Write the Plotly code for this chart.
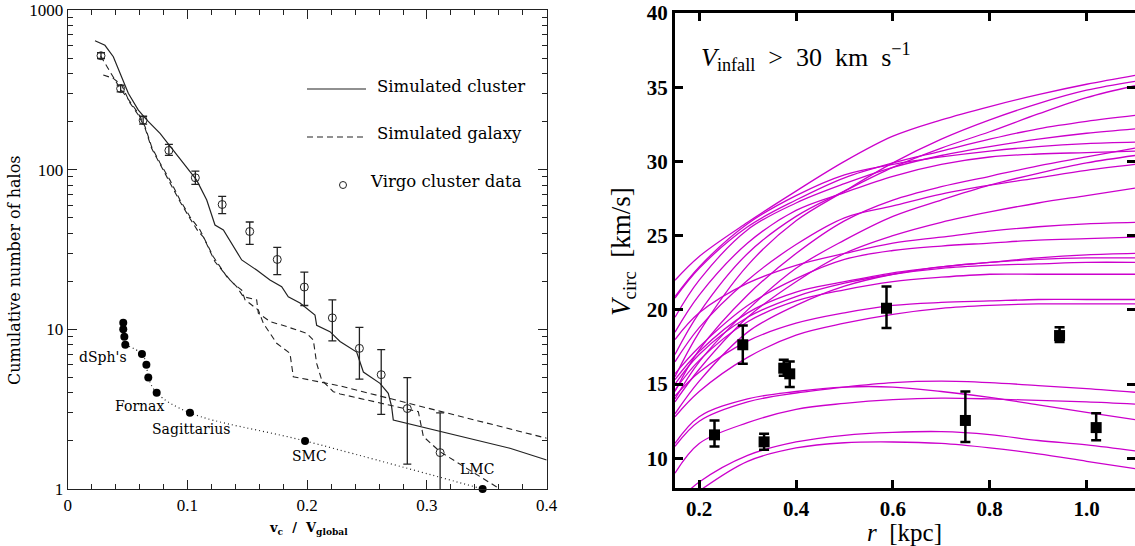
import math
import plotly.graph_objects as go

W, H = 1135, 546

# ---------------- Left panel data ----------------
cluster_x = [0.0228, 0.0311, 0.0381, 0.0437, 0.0506, 0.059, 0.066, 0.0771, 0.0882, 0.0994,
             0.1077, 0.1161, 0.123, 0.130, 0.1383, 0.1453, 0.1578, 0.1689, 0.1787, 0.1842,
             0.194, 0.2065, 0.2079, 0.219, 0.2274, 0.2413, 0.2469, 0.2608, 0.2677, 0.2705,
             0.2719, 0.3693, 0.4]
cluster_n = [642, 601, 510, 401, 301, 236, 205, 169, 133, 104,
             86, 64.6, 45, 41.9, 33, 27.2, 23.5, 20.4, 18.5, 16.0,
             14.6, 12.3, 10.6, 9.67, 8.4, 7.2, 5.4, 4.59, 3.97, 3.28,
             2.70, 1.80, 1.52]

galaxy1_x = [0.0275, 0.0437, 0.052, 0.059, 0.0646, 0.0701, 0.0771, 0.0854, 0.0938, 0.1021,
             0.1105, 0.1216, 0.1328, 0.1383, 0.1453, 0.1481, 0.1592, 0.1634, 0.1745, 0.1856,
             0.1884, 0.2107, 0.2275, 0.4]
galaxy1_n = [515, 323, 267, 225, 186, 139, 110, 86, 64.6, 50.7,
             41.9, 28.5, 21.4, 19.4, 17.6, 15.3, 13.2, 10.9, 8.18, 7.08,
             5.05, 4.70, 4.42, 2.08]

galaxy2_x = [0.0297, 0.0381, 0.045, 0.052, 0.059, 0.0646, 0.0701, 0.0771, 0.0854, 0.0938,
             0.1021, 0.1090, 0.1132, 0.1230, 0.1355, 0.1411, 0.1467, 0.1578, 0.1592, 0.1689,
             0.1829, 0.1996, 0.2051, 0.2079, 0.2121, 0.2218, 0.2275, 0.2928, 0.297, 0.311, 0.361]
galaxy2_n = [392, 373, 339, 262, 220, 182, 136, 108, 84, 63,
             49.5, 41, 38, 26.5, 20.4, 18.5, 16.0, 15.3, 12.6, 11.2,
             10.4, 9.44, 8.57, 6.12, 4.82, 4.07, 3.94, 3.05, 2.13, 1.71, 1.0]

virgo_x = [0.0278, 0.0442, 0.063, 0.0845, 0.1066, 0.129, 0.152, 0.175, 0.1976, 0.221,
           0.2436, 0.2618, 0.2836, 0.311]
virgo_n = [517, 322, 204, 132, 89, 60.5, 41, 27.4, 18.4, 11.8, 7.6, 5.2, 3.19, 1.69]
virgo_hi = [540, 338, 216, 144, 98, 68, 47, 32.6, 22.8, 15.3, 10.3, 7.46, 4.99, 3.0]
virgo_lo = [497, 307, 193, 123, 81, 53, 34, 22, 14.1, 8.46, 4.87, 2.93, 1.43, 0.5]

sat_x = [0.0464, 0.0464, 0.0473, 0.0481, 0.0620, 0.0657, 0.0673, 0.0743, 0.1021, 0.1982, 0.3465]
sat_n = [11, 10, 9, 8, 7, 6, 5, 4, 3, 2, 1]
sat_labels = {3: "dSph's", 7: "Fornax", 8: "Sagittarius", 9: "SMC", 10: "LMC"}

left_xticks = [0, 0.1, 0.2, 0.3, 0.4]
left_yticks = [1, 10, 100, 1000]
left_yticktext = ["1", "10", "100", "1000"]

# ---------------- Right panel data ----------------
r_grid = [0.15, 0.2, 0.3, 0.4, 0.5, 0.6, 0.7, 0.8, 0.9, 1.0, 1.1]
vcirc_curves = [
    [22.0, 23.6, 25.9, 28.0, 30.0, 31.7, 32.8, 33.7, 34.5, 35.2, 35.8],
    [15.5, 18.5, 23.0, 26.0, 28.0, 29.9, 31.5, 32.8, 33.9, 34.8, 35.4],
    [17.0, 19.8, 23.8, 26.3, 28.0, 29.6, 30.9, 32.0, 33.2, 34.3, 35.1],
    [20.8, 22.8, 25.6, 27.4, 28.9, 29.9, 30.7, 31.5, 32.2, 32.7, 33.1],
    [19.5, 22.0, 25.4, 27.2, 28.5, 29.6, 30.4, 31.0, 31.5, 31.9, 32.2],
    [20.9, 22.9, 25.8, 27.7, 29.1, 29.8, 30.3, 30.7, 31.0, 31.2, 31.3],
    [14.5, 17.3, 21.0, 23.8, 26.0, 27.4, 28.3, 29.0, 29.7, 30.3, 30.9],
    [18.5, 21.0, 24.5, 26.7, 27.9, 29.0, 29.8, 30.3, 30.5, 30.6, 30.7],
    [14.0, 16.5, 20.0, 22.8, 24.7, 26.3, 27.4, 28.4, 29.2, 29.9, 30.4],
    [16.5, 18.8, 22.0, 24.4, 26.2, 27.0, 27.8, 28.4, 28.9, 29.4, 29.8],
    [13.8, 16.0, 19.5, 21.9, 23.8, 25.0, 25.9, 26.6, 27.2, 27.7, 28.2],
    [18.0, 19.8, 21.8, 23.0, 23.8, 24.5, 24.9, 25.3, 25.6, 25.8, 25.9],
    [15.7, 17.5, 20.3, 22.1, 23.4, 24.0, 24.3, 24.5, 24.7, 24.8, 24.9],
    [13.0, 15.2, 18.5, 20.3, 21.6, 22.4, 22.9, 23.2, 23.5, 23.7, 23.8],
    [15.3, 17.2, 19.8, 21.2, 21.9, 22.5, 22.9, 23.2, 23.4, 23.5, 23.5],
    [15.0, 17.0, 19.5, 20.9, 21.8, 22.4, 22.8, 23.0, 23.1, 23.2, 23.2],
    [14.6, 16.6, 19.2, 20.6, 21.35, 21.9, 22.2, 22.4, 22.4, 22.4, 22.4],
    [14.2, 15.8, 17.9, 19.1, 19.8, 20.3, 20.5, 20.6, 20.7, 20.7, 20.7],
    [12.8, 14.5, 16.8, 18.3, 19.1, 19.7, 20.1, 20.3, 20.4, 20.4, 20.4],
    [10.8, 12.5, 13.8, 14.4, 14.8, 15.1, 15.2, 15.1, 14.9, 14.7, 14.45],
    [11.0, 12.8, 14.0, 14.5, 14.8, 14.8, 14.5, 14.1, 13.6, 13.1, 12.6],
    [9.0, 11.0, 12.4, 13.3, 13.7, 13.95, 14.05, 14.0, 13.9, 13.8, 13.65],
    [6.9, 8.4, 10.2, 11.1, 11.55, 11.75, 11.8, 11.6, 11.2, 10.9, 10.5],
    [6.5, 7.8, 9.8, 10.7, 11.05, 11.1, 11.0, 10.7, 10.3, 9.8, 9.3],
]

obs_r = [0.2316, 0.290, 0.334, 0.3746, 0.387, 0.5868, 0.7497, 0.9442, 1.0198]
obs_v = [11.58, 17.65, 11.11, 16.07, 15.69, 20.11, 12.55, 18.27, 12.07]
obs_err_hi = [0.97, 1.30, 0.54, 0.57, 0.83, 1.47, 1.95, 0.56, 0.97]
obs_err_lo = [0.78, 1.28, 0.54, 0.50, 0.89, 1.33, 1.45, 0.43, 0.85]

right_xticks = [0.2, 0.4, 0.6, 0.8, 1.0]
right_xticktext = ["0.2", "0.4", "0.6", "0.8", "1.0"]

# ---------------- helpers ----------------
def px(x):
    return x / W

def py(y):
    return 1 - y / H

INK = "#222222"
MAG = "#cc00cc"

fig = go.Figure()

# Left panel traces
fig.add_trace(go.Scatter(x=cluster_x, y=cluster_n, mode="lines",
                         line=dict(color=INK, width=1.2), xaxis="x", yaxis="y"))
fig.add_trace(go.Scatter(x=galaxy1_x, y=galaxy1_n, mode="lines",
                         line=dict(color=INK, width=1.1, dash="6px,4px"), xaxis="x", yaxis="y"))
fig.add_trace(go.Scatter(x=galaxy2_x, y=galaxy2_n, mode="lines",
                         line=dict(color=INK, width=1.1, dash="6px,4px"), xaxis="x", yaxis="y"))
fig.add_trace(go.Scatter(
    x=virgo_x, y=virgo_n, mode="markers",
    marker=dict(symbol="circle-open", size=8, color=INK, line=dict(width=1)),
    error_y=dict(type="data", symmetric=False,
                 array=[h - n for h, n in zip(virgo_hi, virgo_n)],
                 arrayminus=[n - l for n, l in zip(virgo_n, virgo_lo)],
                 color=INK, thickness=1.3, width=4),
    xaxis="x", yaxis="y"))
fig.add_trace(go.Scatter(x=sat_x[3:], y=sat_n[3:], mode="lines", line_shape="spline",
                         line=dict(color=INK, width=1.2, dash="1px,3px"), xaxis="x", yaxis="y"))
fig.add_trace(go.Scatter(x=sat_x, y=sat_n, mode="markers", cliponaxis=False,
                         marker=dict(symbol="circle", size=8, color="black"),
                         xaxis="x", yaxis="y"))

# Right panel traces
for v in vcirc_curves:
    fig.add_trace(go.Scatter(x=r_grid, y=v, mode="lines", line_shape="spline",
                             line=dict(color=MAG, width=1.3), xaxis="x2", yaxis="y2"))
fig.add_trace(go.Scatter(
    x=obs_r, y=obs_v, mode="markers",
    marker=dict(symbol="square", size=11, color="black"),
    error_y=dict(type="data", symmetric=False, array=obs_err_hi, arrayminus=obs_err_lo,
                 color="black", thickness=2.5, width=5),
    xaxis="x2", yaxis="y2"))

annotations = []
label_shift = {3: (-22, -12), 7: (-17, -13), 8: (1, -16), 9: (4, -15), 10: (-6, 20)}
for i, name in sat_labels.items():
    dx, dy = label_shift[i]
    annotations.append(dict(x=sat_x[i], y=math.log10(sat_n[i]), xref="x", yref="y", text=name,
                            showarrow=False, xshift=dx, yshift=dy,
                            font=dict(family="DejaVu Serif", size=14, color="black")))

serif = "DejaVu Serif"
annotations += [
    dict(x=px(375), y=py(86), xref="paper", yref="paper", xanchor="left", yanchor="middle",
         text="Simulated cluster", showarrow=False, font=dict(family=serif, size=16.5, color="black")),
    dict(x=px(375), y=py(133), xref="paper", yref="paper", xanchor="left", yanchor="middle",
         text="Simulated galaxy", showarrow=False, font=dict(family=serif, size=16.5, color="black")),
    dict(x=px(368), y=py(182), xref="paper", yref="paper", xanchor="left", yanchor="middle",
         text="Virgo cluster data", showarrow=False, font=dict(family=serif, size=16.5, color="black")),
    dict(x=px(14), y=py(270), xref="paper", yref="paper", xanchor="center", yanchor="middle",
         text="Cumulative number of halos", textangle=-90, showarrow=False,
         font=dict(family=serif, size=16, color="black")),
    dict(x=px(308), y=py(528), xref="paper", yref="paper", xanchor="center", yanchor="middle",
         text="<b>v<sub>c</sub>  /  V<sub>global</sub></b>", showarrow=False,
         font=dict(family=serif, size=13, color="black")),
    dict(x=px(904), y=py(532), xref="paper", yref="paper", xanchor="center", yanchor="middle",
         text="<i>r</i>  [kpc]", showarrow=False,
         font=dict(family="Liberation Serif", size=25, color="black")),
    dict(x=px(623), y=py(252), xref="paper", yref="paper", xanchor="center", yanchor="middle",
         text="<i>V</i><sub>circ</sub>  [km/s]", textangle=-90, showarrow=False,
         font=dict(family="Liberation Serif", size=27, color="black")),
    dict(x=px(699), y=py(57), xref="paper", yref="paper", xanchor="left", yanchor="middle",
         text="<i>V</i><sub>infall</sub>  >  30  km  s<sup>−1</sup>", showarrow=False,
         font=dict(family="Liberation Serif", size=26, color="black")),
]

shapes = [
    dict(type="line", xref="paper", yref="paper", x0=px(307), x1=px(366), y0=py(89), y1=py(89),
         line=dict(color=INK, width=1.2)),
    dict(type="line", xref="paper", yref="paper", x0=px(307), x1=px(366), y0=py(137), y1=py(137),
         line=dict(color=INK, width=1.2, dash="6px,4px")),
    dict(type="circle", xref="paper", yref="paper", x0=px(339.5), x1=px(346.5),
         y0=py(188.5), y1=py(181.5), line=dict(color=INK, width=1)),
]

left_font = dict(family="Liberation Serif", size=17, color="black")
right_font = dict(family="Liberation Serif", size=21, color="black", weight="bold")

fig.update_layout(
    width=W, height=H, margin=dict(l=0, r=0, t=0, b=0, autoexpand=False),
    paper_bgcolor="white", plot_bgcolor="white", showlegend=False,
    annotations=annotations, shapes=shapes,
    xaxis=dict(domain=[px(67.7), px(546.7)], anchor="y", range=[0, 0.4], automargin=False,
               tickmode="array", tickvals=left_xticks, ticks="inside", ticklen=9, tickwidth=1,
               tickcolor=INK, showline=True, linecolor=INK, linewidth=1.3, mirror="allticks",
               minor=dict(ticks="inside", ticklen=5, tickwidth=1, tickcolor=INK, dtick=0.02, tick0=0),
               showgrid=False, zeroline=False, tickfont=left_font),
    yaxis=dict(domain=[py(489), py(10)], anchor="x", type="log", range=[0, 3], automargin=False,
               tickmode="array", tickvals=left_yticks, ticktext=left_yticktext,
               ticks="inside", ticklen=9, tickwidth=1, tickcolor=INK,
               showline=True, linecolor=INK, linewidth=1.3, mirror="allticks",
               minor=dict(ticks="inside", ticklen=5, tickwidth=1, tickcolor=INK, dtick="D1"),
               showgrid=False, zeroline=False, tickfont=left_font),
    xaxis2=dict(domain=[px(675), 1.0], anchor="y2", range=[0.15, 1.1], automargin=False,
                tickmode="array", tickvals=right_xticks, ticktext=right_xticktext,
                ticks="inside", ticklen=8, tickwidth=2.5, tickcolor="black",
                showline=True, linecolor="black", linewidth=3, mirror="allticks",
                showgrid=False, zeroline=False, tickfont=right_font),
    yaxis2=dict(domain=[py(488), py(13)], anchor="x2", range=[8, 40], automargin=False,
                tickmode="linear", tick0=0, dtick=5,
                ticks="inside", ticklen=8, tickwidth=2.5, tickcolor="black",
                showline=True, linecolor="black", linewidth=3, mirror="allticks",
                showgrid=False, zeroline=False, tickfont=right_font),
)

fig.write_html("out.html", config={"displayModeBar": False},
               post_script="document.body.style.margin='0px';")
